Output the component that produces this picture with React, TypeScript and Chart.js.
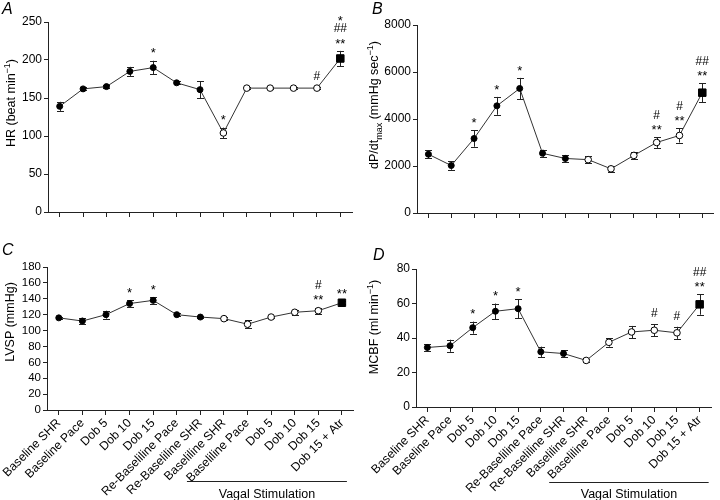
import React, { useEffect, useRef } from "react";
import { Chart, registerables } from "chart.js";
Chart.register(...registerables);

const FONT = "'Liberation Sans', Arial, Helvetica, sans-serif";

const categories = [
  "Baseline SHR", "Baseline Pace", "Dob 5", "Dob 10", "Dob 15",
  "Re-Baseliline Pace", "Re-Baseliline SHR", "Baseliline SHR", "Baseliline Pace",
  "Dob 5", "Dob 10", "Dob 15", "Dob 15 + Atr",
];

// Panel A: HR
const hrValues = [139, 162, 165, 185, 190, 170, 161, 104, 163, 163, 163, 163, 202];
const hrErrors = [6, 2, 2, 6, 9, 2, 11, 7, 1, 1, 1, 1, 10];
const hrMarks = ["", "", "", "", "*", "", "", "*", "", "", "", "#", "*\n##\n**"];

// Panel B: dP/dtmax
const dpValues = [2500, 2020, 3170, 4560, 5300, 2540, 2320, 2270, 1880, 2450, 3000, 3300, 5120];
const dpErrors = [180, 180, 350, 380, 450, 150, 150, 150, 120, 150, 230, 300, 400];
const dpMarks = ["", "", "*", "*", "*", "", "", "", "", "", "#\n**", "#\n**", "##\n**"];

// Panel C: LVSP
const lvspValues = [116, 112, 120, 134, 138, 120, 117, 115, 108, 117, 123, 125, 135];
const lvspErrors = [1.5, 4, 5, 4, 4, 1.5, 1.5, 1.5, 5, 1.5, 3, 4, 2];
const lvspMarks = ["", "", "", "*", "*", "", "", "", "", "", "", "#\n**", "**"];

// Panel D: MCBF
const mcbfValues = [34.5, 35.5, 46, 55.5, 57, 32, 31, 27, 37.5, 43.5, 44.5, 43, 59.5];
const mcbfErrors = [2, 3.5, 3.5, 4.5, 5.5, 3, 2, 1, 2.5, 3.5, 3.5, 3.5, 6];
const mcbfMarks = ["", "", "*", "*", "*", "", "", "", "", "", "#", "#", "##\n**"];

const pointStyles = categories.map((_, i) => (i === 12 ? "rect" : "circle"));
const pointFills = categories.map((_, i) => (i >= 7 && i <= 11 ? "#ffffff" : "#000000"));
const pointRadii = categories.map((_, i) => (i === 12 ? 5.3 : i >= 7 && i <= 11 ? 3.3 : 3));

type Seg = { t: string; sub?: boolean; sup?: boolean };

type PanelCfg = {
  letter: string;
  letterPos: [number, number];
  values: number[];
  errors: number[];
  marks: string[];
  max: number;
  step: number;
  padTop: number;
  padRight: number;
  yWidth: number;
  xHeight: number;
  showLabels: boolean;
  tickSize: number;
  title: Seg[];
  titlePos: [number, number];
  vagal?: { y: number; textY: number; startOff: number; endOff: number };
};

const panelPlugin = {
  id: "panelExtras",
  beforeDatasetsDraw(chart: any, _a: any, opts: any) {
    const cfg: PanelCfg = opts.cfg;
    const ctx = chart.ctx;
    const xs = chart.scales.x;
    const ys = chart.scales.y;
    ctx.save();
    ctx.strokeStyle = "#222";
    ctx.lineWidth = 1;
    cfg.values.forEach((v, i) => {
      const e = cfg.errors[i];
      const x = Math.round(xs.getPixelForValue(i)) + 0.5;
      const yt = ys.getPixelForValue(v + e);
      const yb = ys.getPixelForValue(v - e);
      ctx.beginPath();
      ctx.moveTo(x, yt);
      ctx.lineTo(x, yb);
      ctx.moveTo(x - 3.5, Math.round(yt) + 0.5);
      ctx.lineTo(x + 3.5, Math.round(yt) + 0.5);
      ctx.moveTo(x - 3.5, Math.round(yb) + 0.5);
      ctx.lineTo(x + 3.5, Math.round(yb) + 0.5);
      ctx.stroke();
    });
    ctx.restore();
  },
  afterDraw(chart: any, _a: any, opts: any) {
    const cfg: PanelCfg = opts.cfg;
    const ctx = chart.ctx;
    const xs = chart.scales.x;
    const ys = chart.scales.y;
    ctx.save();
    // significance marks
    ctx.fillStyle = "#000";
    ctx.textAlign = "center";
    ctx.textBaseline = "alphabetic";
    cfg.marks.forEach((m, i) => {
      if (!m) return;
      const lines = m.split("\n");
      const x = xs.getPixelForValue(i);
      const top = ys.getPixelForValue(cfg.values[i] + cfg.errors[i]);
      lines.reverse().forEach((ln, k) => {
        const center = top - 11.5 - k * 11.5;
        const isStar = ln.indexOf("*") >= 0;
        const base = center + (isStar ? 0.6 : 0.38) * 12;
        ctx.font = isStar ? `13px ${FONT}` : `12px ${FONT}`;
        ctx.fillText(ln, x, base + (isStar ? 1 : 0));
      });
    });
    // panel letter
    ctx.font = `italic 16px ${FONT}`;
    ctx.textAlign = "left";
    ctx.fillText(cfg.letter, cfg.letterPos[0], cfg.letterPos[1]);
    // y title with sub/superscripts
    const mainSize = 12.5;
    const smallSize = 9;
    const segFont = (s: Seg) => `${s.sub || s.sup ? smallSize : mainSize}px ${FONT}`;
    let total = 0;
    cfg.title.forEach((s) => {
      ctx.font = segFont(s);
      total += ctx.measureText(s.t).width;
    });
    ctx.translate(cfg.titlePos[0], cfg.titlePos[1]);
    ctx.rotate(-Math.PI / 2);
    let cx = -total / 2;
    cfg.title.forEach((s) => {
      ctx.font = segFont(s);
      const dy = s.sub ? 3.5 : s.sup ? -5 : 0;
      ctx.fillText(s.t, cx, dy);
      cx += ctx.measureText(s.t).width;
    });
    ctx.setTransform(1, 0, 0, 1, 0, 0);
    // vagal stimulation bar
    if (cfg.vagal) {
      const x1 = xs.getPixelForValue(7) + cfg.vagal.startOff;
      const x2 = xs.getPixelForValue(12) + cfg.vagal.endOff;
      ctx.strokeStyle = "#222";
      ctx.lineWidth = 1.2;
      ctx.beginPath();
      ctx.moveTo(x1, cfg.vagal.y);
      ctx.lineTo(x2, cfg.vagal.y);
      ctx.stroke();
      ctx.font = `12.5px ${FONT}`;
      ctx.textAlign = "center";
      ctx.fillText("Vagal Stimulation", (x1 + x2) / 2, cfg.vagal.textY);
    }
    ctx.restore();
  },
};

function Panel({ cfg, left, top, width, height }: { cfg: PanelCfg; left: number; top: number; width: number; height: number }) {
  const ref = useRef<HTMLCanvasElement | null>(null);
  useEffect(() => {
    if (!ref.current) return;
    const chart = new Chart(ref.current, {
      type: "line",
      data: {
        labels: categories,
        datasets: [
          {
            data: cfg.values,
            borderColor: "#333",
            borderWidth: 1,
            pointStyle: pointStyles as any,
            pointBackgroundColor: pointFills,
            pointBorderColor: "#000",
            pointBorderWidth: 1,
            pointRadius: pointRadii,
            tension: 0,
          },
        ],
      },
      options: {
        responsive: false,
        animation: false,
        events: [],
        layout: { padding: { top: cfg.padTop, right: cfg.padRight, left: 0, bottom: 0 } },
        plugins: {
          legend: { display: false },
          tooltip: { enabled: false },
          panelExtras: { cfg } as any,
        } as any,
        scales: {
          x: {
            type: "category",
            offset: true,
            border: { display: true, color: "#222", width: 1 },
            grid: { display: true, drawOnChartArea: false, drawTicks: true, tickLength: 5, color: "#222", offset: false },
            ticks: {
              display: cfg.showLabels,
              autoSkip: false,
              maxRotation: 45,
              minRotation: 45,
              padding: 1,
              color: "#000",
              font: { family: FONT, size: 12.2 },
            },
            afterFit: (s: any) => {
              s.height = cfg.xHeight;
            },
          },
          y: {
            min: 0,
            max: cfg.max,
            border: { display: true, color: "#222", width: 1 },
            grid: { display: true, drawOnChartArea: false, drawTicks: true, tickLength: 4, color: "#222" },
            ticks: {
              stepSize: cfg.step,
              autoSkip: false,
              padding: 2,
              color: "#000",
              font: { family: FONT, size: cfg.tickSize },
              callback: (v: any) => String(v),
            },
            afterFit: (s: any) => {
              s.width = cfg.yWidth;
            },
          },
        },
      },
      plugins: [panelPlugin],
    });
    return () => chart.destroy();
  }, []);
  return (
    <canvas
      ref={ref}
      width={width}
      height={height}
      style={{ position: "absolute", left, top, width, height }}
    />
  );
}

const panelA: PanelCfg = {
  letter: "A", letterPos: [2, 13.5],
  values: hrValues, errors: hrErrors, marks: hrMarks,
  max: 250, step: 50, padTop: 22, padRight: 8, yWidth: 48, xHeight: 16, showLabels: false, tickSize: 12,
  title: [{ t: "HR (beat min" }, { t: "−1", sup: true }, { t: ")" }],
  titlePos: [15, 103],
};
const panelB: PanelCfg = {
  letter: "B", letterPos: [12, 13.5],
  values: dpValues, errors: dpErrors, marks: dpMarks,
  max: 8000, step: 2000, padTop: 25, padRight: 0, yWidth: 57, xHeight: 15, showLabels: false, tickSize: 12,
  title: [{ t: "dP/dt" }, { t: "max", sub: true }, { t: " (mmHg sec" }, { t: "−1", sup: true }, { t: ")" }],
  titlePos: [18, 105],
};
const panelC: PanelCfg = {
  letter: "C", letterPos: [2, 27],
  values: lvspValues, errors: lvspErrors, marks: lvspMarks,
  max: 180, step: 20, padTop: 39, padRight: 6, yWidth: 47, xHeight: 90, showLabels: true, tickSize: 11.5,
  title: [{ t: "LVSP (mmHg)" }],
  titlePos: [14, 94],
  vagal: { y: 253.5, textY: 270, startOff: -37, endOff: 5 },
};
const panelD: PanelCfg = {
  letter: "D", letterPos: [13, 32],
  values: mcbfValues, errors: mcbfErrors, marks: mcbfMarks,
  max: 80, step: 20, padTop: 41, padRight: 9, yWidth: 56, xHeight: 93, showLabels: true, tickSize: 12,
  title: [{ t: "MCBF (ml min" }, { t: "−1", sup: true }, { t: ")" }],
  titlePos: [18, 99],
  vagal: { y: 254.5, textY: 270, startOff: -37, endOff: 9 },
};

export default function App() {
  return (
    <div style={{ position: "absolute", left: 0, top: 0, width: 720, height: 500, background: "#fff", overflow: "hidden" }}>
      <Panel cfg={panelA} left={0} top={0} width={360} height={228} />
      <Panel cfg={panelB} left={360} top={0} width={360} height={228} />
      <Panel cfg={panelC} left={0} top={228} width={360} height={272} />
      <Panel cfg={panelD} left={360} top={228} width={360} height={272} />
    </div>
  );
}
